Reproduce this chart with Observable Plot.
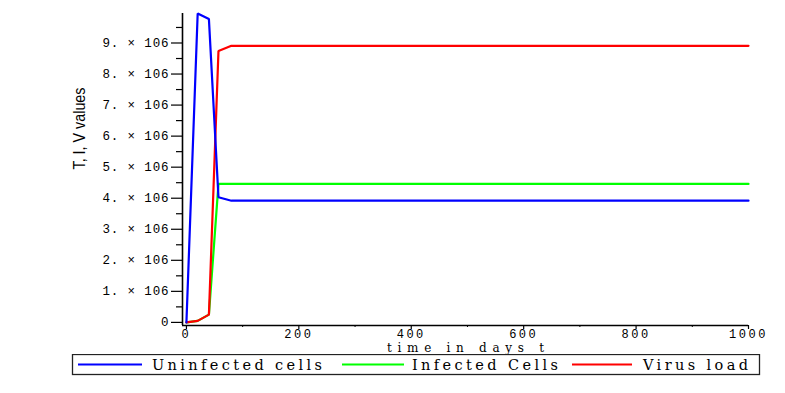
<!DOCTYPE html>
<html><head><meta charset="utf-8">
<script src="https://cdn.jsdelivr.net/npm/d3@7"></script>
<script src="https://cdn.jsdelivr.net/npm/@observablehq/plot@0.6"></script>
<style>
body{margin:0;background:#fff;}
#chart svg{display:block;}
g[aria-label="x-axis tick label"] text{letter-spacing:2.5px;}
</style></head><body><div id="chart"></div>
<script>
const times = [0, 20, 40, 57, 80, 1000];
const uninfected = [0, 9.95e6, 9.77e6, 4.03e6, 3.92e6, 3.92e6];
const infected = [0, 0.05e6, 0.25e6, 4.46e6, 4.46e6, 4.46e6];
const virus = [0, 0.05e6, 0.25e6, 8.74e6, 8.91e6, 8.91e6];
const seriesNames = ["Uninfected cells", "Infected Cells", "Virus load"];
const seriesColors = ["#0000ff", "#00ff00", "#ff0000"];
const yTickValues = [0, 1e6, 2e6, 3e6, 4e6, 5e6, 6e6, 7e6, 8e6, 9e6];
const yTickLabels = ["0", "1. × 106", "2. × 106", "3. × 106", "4. × 106", "5. × 106", "6. × 106", "7. × 106", "8. × 106", "9. × 106"];
const yMinorTicks = [0.5e6, 1.5e6, 2.5e6, 3.5e6, 4.5e6, 5.5e6, 6.5e6, 7.5e6, 8.5e6, 9.5e6];
const xTickValues = [0, 200, 400, 600, 800, 1000];
const xTickLabels = ["0", "200", "400", "600", "800", "1000"];
const xMinorTicks = [100, 300, 500, 700, 900];
const xTitle = "time in days t";
const yTitle = "T, I, V values";

const seriesValues = [uninfected, infected, virus];
const rows = seriesValues.map((vals, s) => times.map((t, i) => ({t, v: vals[i], s})));
const yMin = -0.1e6, yMax = 9.95e6, xMin = -7, xMax = 1000;
const drawOrder = [1, 2, 0];

const plot = Plot.plot({
  width: 785, height: 354,
  marginLeft: 182, marginRight: 37, marginTop: 13, marginBottom: 29,
  x: {domain: [xMin, xMax], label: null},
  y: {domain: [yMin, yMax], label: null},
  style: {background: "white", color: "black"},
  marks: [
    Plot.axisY({ticks: yMinorTicks, tickSize: 6, tickFormat: () => "", strokeWidth: 1.2}),
    Plot.axisY({ticks: yTickValues, tickSize: 11, tickPadding: 3, strokeWidth: 1.2,
      tickFormat: (d) => yTickLabels[yTickValues.indexOf(d)],
      fontFamily: "Liberation Mono", fontSize: 12.5}),
    Plot.axisX({ticks: xMinorTicks, tickSize: 2, tickFormat: () => ""}),
    Plot.axisX({ticks: xTickValues, tickSize: 4, tickPadding: 0, strokeWidth: 1.2,
      tickFormat: (d) => xTickLabels[xTickValues.indexOf(d)],
      fontFamily: "Liberation Mono", fontSize: 12}),
    Plot.ruleX([xMin], {stroke: "black", strokeWidth: 1.6}),
    Plot.ruleY([yMin], {stroke: "black", strokeWidth: 1.4}),
    ...drawOrder.map((s) => Plot.line(rows[s], {x: "t", y: "v", stroke: seriesColors[s], strokeWidth: 2.2, strokeLinejoin: "miter"})),
    Plot.text([xTitle], {frameAnchor: "bottom", dy: 26, lineAnchor: "bottom", fontFamily: "DejaVu Serif", fontSize: 12}),
    Plot.text([yTitle], {frameAnchor: "left", dx: -103, rotate: -90, fontFamily: "Liberation Sans Narrow, Liberation Sans", fontSize: 16})
  ]
});
document.getElementById("chart").appendChild(plot);

const svg = d3.select(plot);
svg.selectAll("text").each(function() {
  const t = d3.select(this);
  const s = t.text();
  if (s === xTitle) t.attr("textLength", 157).attr("lengthAdjust", "spacing");
  else if (s === yTitle) t.attr("textLength", 82).attr("lengthAdjust", "spacingAndGlyphs");
  else if (yTickLabels.indexOf(s) > 0) t.attr("textLength", 66).attr("lengthAdjust", "spacing");
});

// Legend below the plot
const legendItems = [
  {line: [78, 142], text: [152, 170]},
  {line: [342, 404], text: [412, 146]},
  {line: [572, 632], text: [643, 105]}
];
const leg = d3.select("#chart").append("svg").attr("width", 785).attr("height", 39).style("display", "block");
leg.append("rect").attr("x", 72.5).attr("y", 0.5).attr("width", 687).attr("height", 20)
  .attr("fill", "white").attr("stroke", "#222").attr("stroke-width", 1.3);
legendItems.forEach((it, i) => {
  leg.append("line").attr("x1", it.line[0]).attr("x2", it.line[1]).attr("y1", 10.5).attr("y2", 10.5)
    .attr("stroke", seriesColors[i]).attr("stroke-width", 2.2);
  leg.append("text").attr("x", it.text[0]).attr("y", 15.5).text(seriesNames[i])
    .attr("font-family", "DejaVu Serif").attr("font-size", 14.5)
    .attr("textLength", it.text[1]).attr("lengthAdjust", "spacing");
});
</script></body></html>
